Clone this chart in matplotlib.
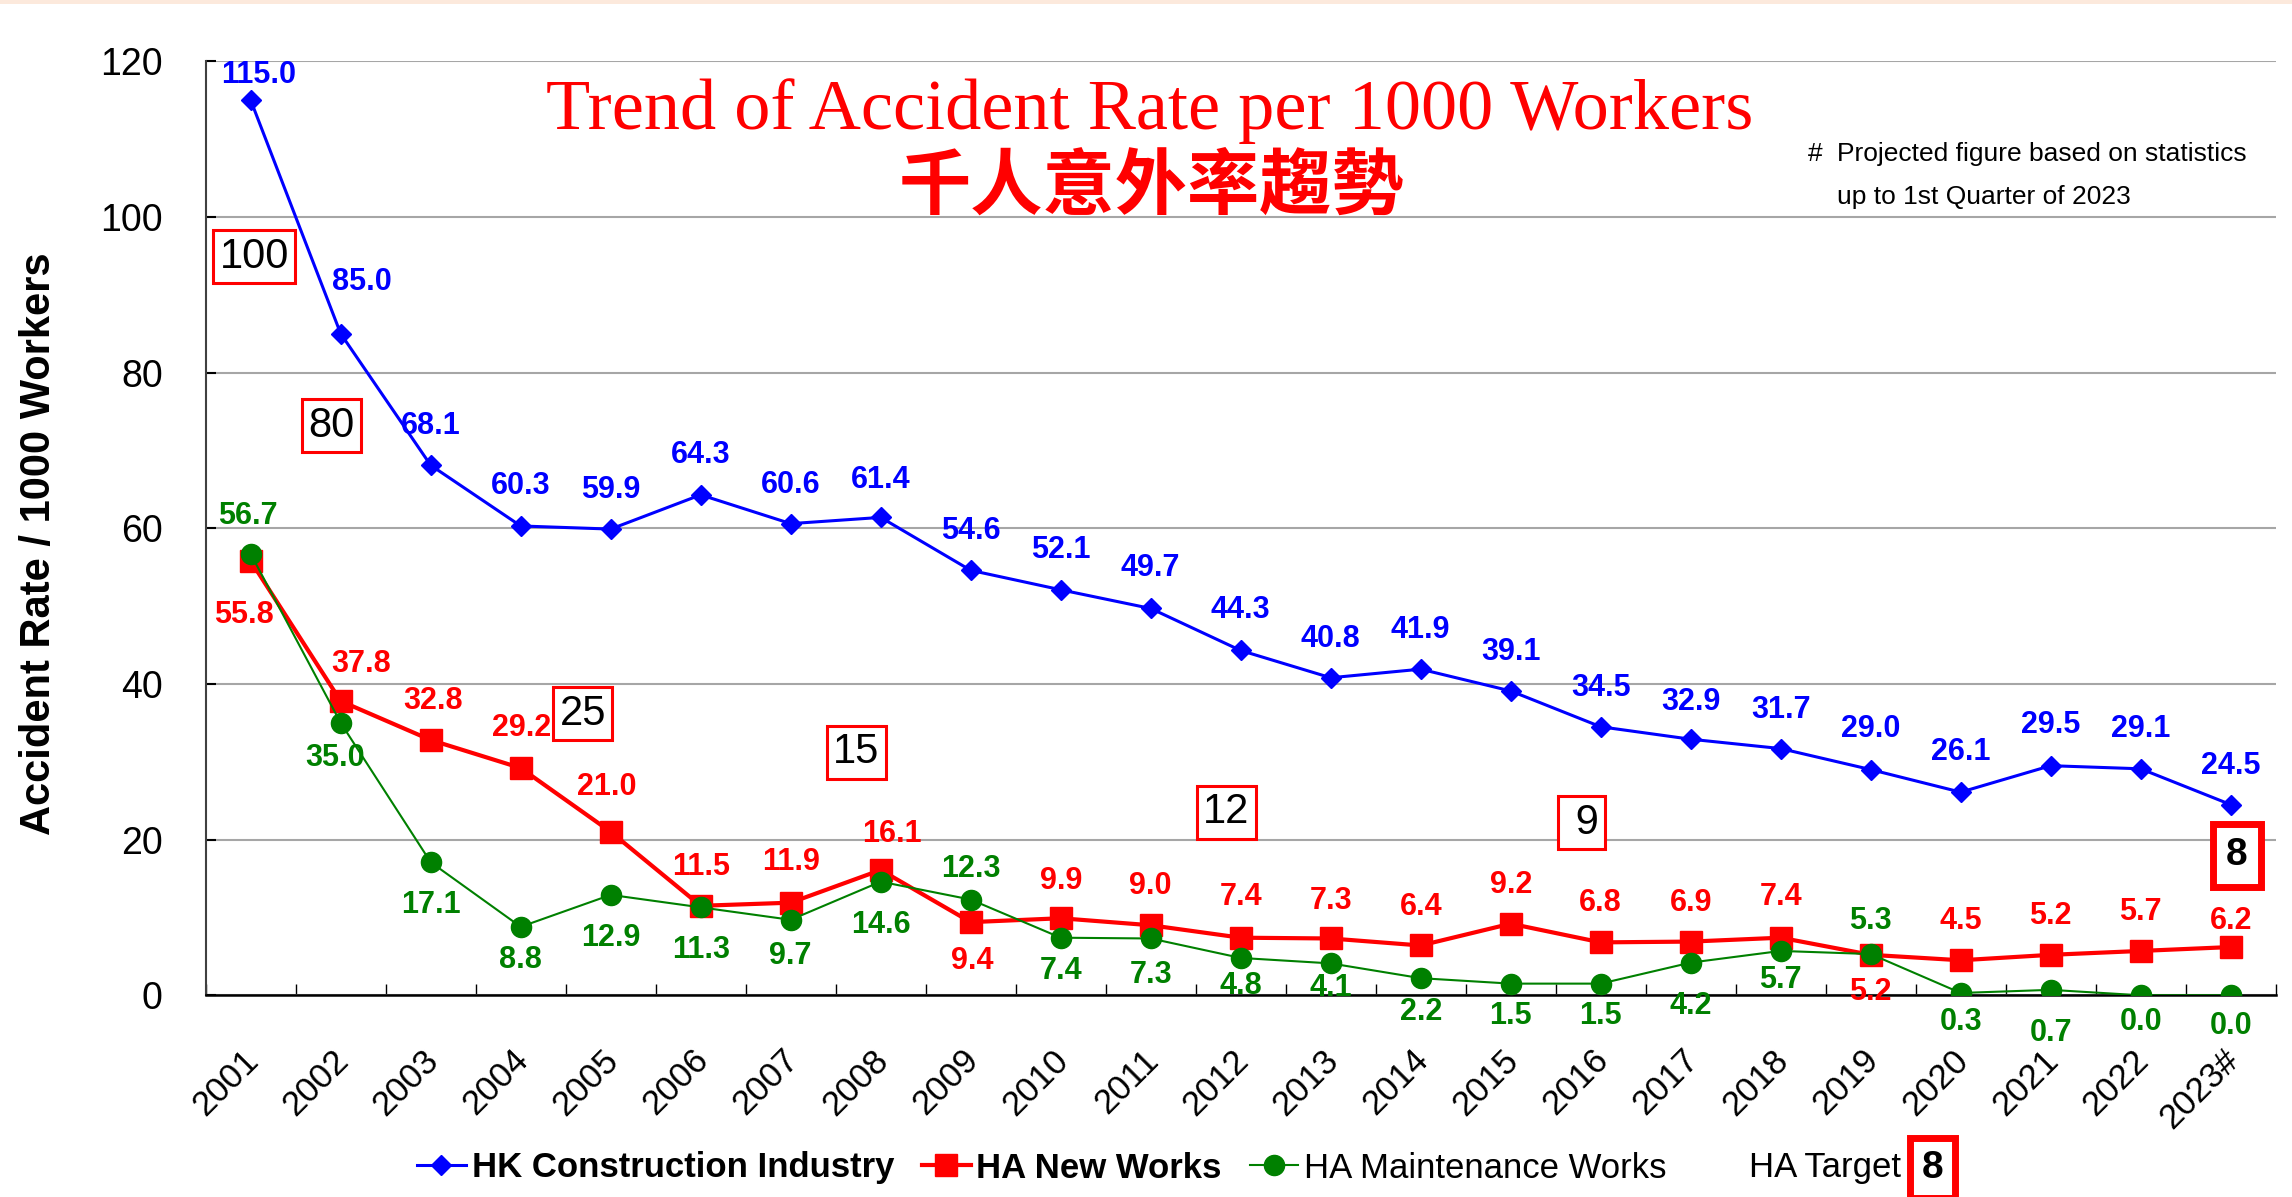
import matplotlib
matplotlib.use('Agg')
import matplotlib.pyplot as plt
import matplotlib.transforms as mtransforms
from matplotlib.patches import Rectangle
from matplotlib import font_manager

plt.rcParams['font.family'] = ['Liberation Sans', 'DejaVu Sans']

# ---- data ----
years = ['2001', '2002', '2003', '2004', '2005', '2006', '2007', '2008', '2009', '2010', '2011', '2012',
         '2013', '2014', '2015', '2016', '2017', '2018', '2019', '2020', '2021', '2022', '2023#']
hk_construction = [115.0, 85.0, 68.1, 60.3, 59.9, 64.3, 60.6, 61.4, 54.6, 52.1, 49.7, 44.3,
                   40.8, 41.9, 39.1, 34.5, 32.9, 31.7, 29.0, 26.1, 29.5, 29.1, 24.5]
ha_new_works = [55.8, 37.8, 32.8, 29.2, 21.0, 11.5, 11.9, 16.1, 9.4, 9.9, 9.0, 7.4,
                7.3, 6.4, 9.2, 6.8, 6.9, 7.4, 5.2, 4.5, 5.2, 5.7, 6.2]
ha_maintenance = [56.7, 35.0, 17.1, 8.8, 12.9, 11.3, 9.7, 14.6, 12.3, 7.4, 7.3, 4.8,
                  4.1, 2.2, 1.5, 1.5, 4.2, 5.7, 5.3, 0.3, 0.7, 0.0, 0.0]
ha_targets = ['100', '80', '25', '15', '12', ' 9', '8']

# label offsets (points) from each marker
blue_dy = [18, 37, 28, 29, 28, 29, 28, 27, 28, 29, 29, 29, 28, 28, 28, 28, 27, 28, 29, 29, 29, 29, 28]
blue_dx = [6, 15] + [0] * 21
red_dy = [-39, 27, 28, 29, 32, 28, 29, 26, -28, 27, 28, 29, 27, 28, 28, 28, 28, 29, -27, 28, 28, 28, 19]
red_dx = [-5, 15, 2, 1, -3, 0, 0, 8, 1] + [0] * 14
green_dy = [27, -25, -31, -24, -31, -31, -26, -31, 22, -24, -26, -20, -18, -24, -23, -23, -31, -21, 24,
            -21, -31, -19, -22]
green_dx = [-2, -4] + [0] * 21
# where the target boxes sit (x index, y value)
target_pos = [(0.04, 94.9), (0.90, 73.2), (3.69, 36.2), (6.73, 31.2), (10.84, 23.5), (14.79, 22.2), (22.07, 18.0)]

fig = plt.figure(figsize=(22.92, 11.97), dpi=100)
ax = fig.add_axes([205.7 / 2292, 1 - 995.3 / 1197, 2070 / 2292, 934 / 1197])
fig.add_artist(Rectangle((0, 1 - 4 / 1197), 1, 4 / 1197, transform=fig.transFigure,
                         color='#FCE9DC', lw=0))

x = list(range(len(years)))
l1, = ax.plot(x, hk_construction, color='#0000FF', lw=2.2, marker='D', ms=10.5, zorder=3,
              label='HK Construction Industry')
l2, = ax.plot(x, ha_new_works, color='#FF0000', lw=3, marker='s', ms=15.5, zorder=4,
              label='HA New Works')
l3, = ax.plot(x, ha_maintenance, color='#008000', lw=1.5, marker='o', ms=14.5, zorder=5,
              label='HA Maintenance Works')

for vals, dxs, dys, col in [(hk_construction, blue_dx, blue_dy, '#0000FF'),
                            (ha_new_works, red_dx, red_dy, '#FF0000'),
                            (ha_maintenance, green_dx, green_dy, '#008000')]:
    for i, v in enumerate(vals):
        ax.annotate(f'{v:.1f}', (i, v), xytext=(dxs[i], dys[i]), textcoords='offset points',
                    ha='center', va='center', fontsize=22, fontweight='bold', color=col, zorder=6)

for i, (t, (px, py)) in enumerate(zip(ha_targets, target_pos)):
    last = i == len(ha_targets) - 1
    ax.text(px, py, t, ha='center', va='center', fontsize=28 if last else 30,
            fontweight='bold' if last else 'normal', color='black', zorder=7,
            bbox=dict(boxstyle='square,pad=0.35' if last else 'square,pad=0.15', fc='white',
                      ec='#FF0000', lw=5 if last else 2.2))

ax.set_xlim(-0.5, len(years) - 0.5)
ax.set_ylim(0, 120)
ax.set_yticks(range(0, 121, 20))
ax.grid(axis='y', color='#A6A6A6', lw=1.5)
ax.set_axisbelow(True)
for s in ['top', 'right']:
    ax.spines[s].set_visible(False)
ax.spines['left'].set_color('#404040')
ax.spines['left'].set_linewidth(1.5)
ax.spines['bottom'].set_linewidth(1.8)
ax.tick_params(axis='y', direction='in', length=7, width=1.5, labelsize=27, pad=31)

ax.set_xticks(x)
ax.set_xticks([i - 0.5 for i in range(len(years) + 1)], minor=True)
ax.set_xticklabels(years, rotation=45, ha='right', va='center', rotation_mode='anchor', fontsize=25)
ax.tick_params(axis='x', which='major', length=0, pad=43)
ax.tick_params(axis='x', which='minor', direction='in', length=8, width=1)
shift = mtransforms.ScaledTranslation(0.03, 0, fig.dpi_scale_trans)
for lab in ax.get_xticklabels():
    lab.set_transform(lab.get_transform() + shift)

ax.set_ylabel('Accident Rate / 1000 Workers', fontsize=30, fontweight='bold')
ax.yaxis.set_label_coords(-0.0709, 0.483)

fig.text(0.5018, 1 - 128.6 / 1197, 'Trend of Accident Rate per 1000 Workers', color='#FF0000',
         fontsize=52, family='Liberation Serif', ha='center', va='baseline')
fig.text(0.5026, 1 - 187 / 1197, '千人意外率趨勢', color='#FF0000', fontsize=52,
         family=['Noto Sans CJK TC', 'DejaVu Sans'], fontweight='bold', ha='center', va='center')

# narrow face for the footnote if it is there
have_narrow = any(f.name == 'Liberation Sans Narrow' for f in font_manager.fontManager.ttflist)
note_font = 'Liberation Sans Narrow' if have_narrow else 'Liberation Sans'
note_size = 22 if have_narrow else 19
fig.text(1808 / 2292, 1 - 161 / 1197, '#', fontsize=note_size, family=note_font, ha='left', va='baseline')
fig.text(1837 / 2292, 1 - 161 / 1197, 'Projected figure based on statistics', fontsize=note_size,
         family=note_font, ha='left', va='baseline')
fig.text(1837 / 2292, 1 - 204 / 1197, 'up to 1st Quarter of 2023', fontsize=note_size,
         family=note_font, ha='left', va='baseline')

blank, = ax.plot([], [], color='none')
leg = fig.legend([l1, l2, l3, blank], ['HK Construction Industry', 'HA New Works', 'HA Maintenance Works',
                                       'HA Target'],
                 loc='center', bbox_to_anchor=(0.5057, 1 - 1168 / 1197), ncol=4, frameon=False,
                 fontsize=25, handlelength=1.4, handletextpad=0.17, columnspacing=0.8, numpoints=1)
for i in [0, 1]:
    leg.get_texts()[i].set_fontweight('bold')
fig.canvas.draw()
ax.annotate('8', xy=(1, 0.5), xycoords=leg.get_texts()[3], xytext=(15, 0), textcoords='offset points',
            ha='left', va='center', fontsize=28, fontweight='bold', annotation_clip=False,
            bbox=dict(boxstyle='square,pad=0.3', fc='white', ec='#FF0000', lw=5))

fig.savefig('out.png', dpi=100)
